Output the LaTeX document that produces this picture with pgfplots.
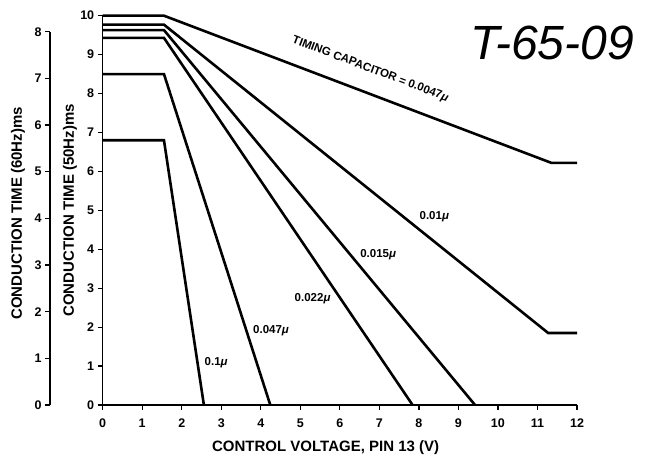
\documentclass[border=0pt]{standalone}
\usepackage{fontspec}
\setmainfont{Liberation Sans}
\usepackage{pgfplots}
\pgfplotsset{compat=1.18}
\pgfplotsset{curve/.style={black, solid, line width=2.6pt, mark=none, line join=miter}}
\begin{document}
\begin{tikzpicture}[x=1pt,y=1pt]
\path[use as bounding box] (0,0) rectangle (649,457);
\begin{axis}[
  at={(102.7pt,52pt)}, anchor=south west,
  scale only axis, width=474.3pt, height=389.3pt,
  xmin=0, xmax=12, ymin=0, ymax=10,
  axis lines=left, axis line style={-, line width=1.6pt},
  xtick={0,...,12}, ytick={0,...,10},
  tick align=outside, major tick length=5pt,
  tick style={line width=1.2pt, black},
  ticklabel style={font=\fontsize{12.5}{14}\selectfont\bfseries},
  /pgf/number format/assume math mode=true,
  xticklabel style={yshift=-5pt},
  xlabel={CONTROL VOLTAGE, PIN 13 (V)},
  xlabel style={at={([yshift=-43pt]axis description cs:0.47,0)}, anchor=center, font=\fontsize{15}{18}\selectfont\bfseries},
  ylabel={CONDUCTION TIME (50Hz)ms},
  ylabel style={at={([xshift=-32.7pt]axis description cs:0,0.5)}, anchor=center, font=\fontsize{15}{18}\selectfont\bfseries},
  clip=false,
]
\addplot[curve] coordinates {(0,10) (1.55,10) (11.35,6.22) (12,6.22)};
\addplot[curve] coordinates {(0,9.77) (1.55,9.77) (11.27,1.85) (12,1.85)};
\addplot[curve] coordinates {(0,9.63) (1.55,9.63) (9.42,0)};
\addplot[curve] coordinates {(0,9.43) (1.55,9.43) (7.84,0)};
\addplot[curve] coordinates {(0,8.5) (1.55,8.5) (4.24,0)};
\addplot[curve] coordinates {(0,6.8) (1.55,6.8) (2.56,0)};
\node[rotate=-20.8, font=\fontsize{11.5}{13}\selectfont\bfseries] at (axis cs:6.77,8.62) {TIMING CAPACITOR = 0.0047{\itshape μ}};
\node[font=\fontsize{11.5}{13}\selectfont\bfseries] at (axis cs:8.39,4.83) {0.01{\itshape μ}};
\node[font=\fontsize{11.5}{13}\selectfont\bfseries] at (axis cs:6.97,3.86) {0.015{\itshape μ}};
\node[font=\fontsize{11.5}{13}\selectfont\bfseries] at (axis cs:5.31,2.72) {0.022{\itshape μ}};
\node[font=\fontsize{11.5}{13}\selectfont\bfseries] at (axis cs:4.26,1.90) {0.047{\itshape μ}};
\node[font=\fontsize{11.5}{13}\selectfont\bfseries] at (axis cs:2.87,1.09) {0.1{\itshape μ}};
\end{axis}
\begin{axis}[
  at={(50pt,52pt)}, anchor=south west,
  scale only axis, width=20pt, height=373.3pt,
  xmin=0, xmax=1, ymin=0, ymax=8,
  axis y line=left, hide x axis, axis line style={-, line width=1.6pt},
  ytick={0,...,8},
  tick align=outside, major tick length=5pt,
  tick style={line width=1.2pt, black},
  ticklabel style={font=\fontsize{12.5}{14}\selectfont\bfseries},
  /pgf/number format/assume math mode=true,
  ylabel={CONDUCTION TIME (60Hz)ms},
  ylabel style={at={([xshift=-32pt,yshift=5pt]axis description cs:0,0.5)}, anchor=center, font=\fontsize{15}{18}\selectfont\bfseries},
]
\addplot[draw=none] coordinates {(0,0) (1,8)};
\end{axis}
\node[font=\fontsize{48}{52}\selectfont\itshape] at (552,414) {T-65-09};
\end{tikzpicture}
\end{document}
